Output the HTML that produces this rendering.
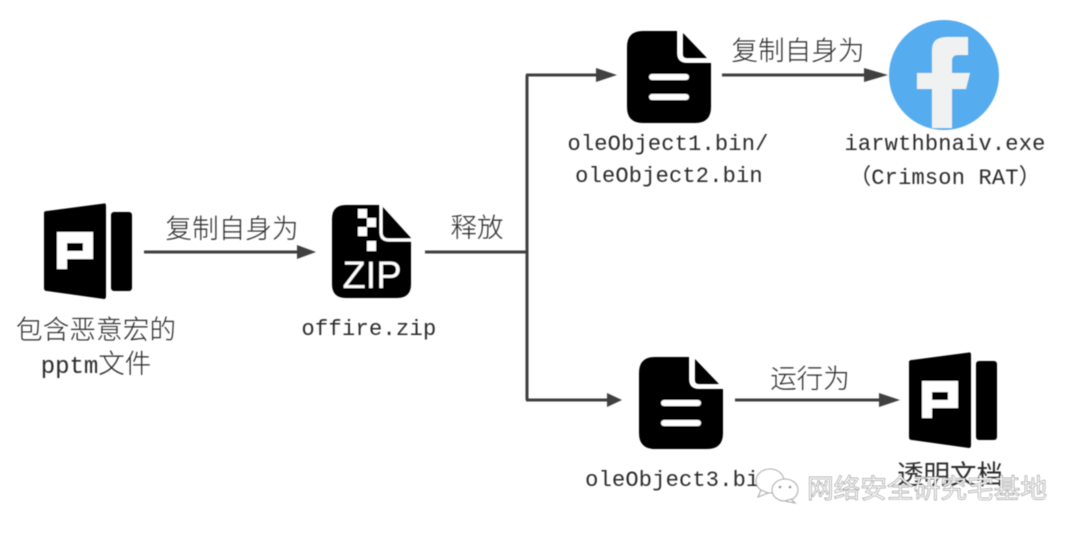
<!DOCTYPE html>
<html><head><meta charset="utf-8"><style>
html,body{margin:0;padding:0;background:#fff;width:1080px;height:534px;overflow:hidden}
svg{display:block}
text{font-family:"Liberation Mono","Noto Sans CJK SC",monospace;fill:#2a2a2a}
.c{font-family:"Liberation Sans","Noto Sans CJK SC",sans-serif;font-size:26.5px;font-weight:300}
.m{font-size:22px;letter-spacing:.2px}
</style></head><body>
<svg width="1080" height="534" viewBox="0 0 1080 534" xmlns="http://www.w3.org/2000/svg">
<defs>
<filter id="b" x="-5%" y="-5%" width="110%" height="110%"><feGaussianBlur stdDeviation="0.55"/></filter>
<g id="ppt">
<path d="M0 10Q0 8 3 8L60 0.5Q62 0 62 3V93Q62 96 60 96L3 88Q0 88 0 85Z" fill="#000"/>
<rect x="67" y="9" width="21" height="79" rx="3" fill="#000"/>
<path fill-rule="evenodd" d="M13 29H49V56H23V66H13ZM23 40V48H39V40Z" fill="#fff"/>
</g>
<g id="doc">
<path d="M16 0H50V22Q50 32 60 32H84V76Q84 92 68 92H16Q0 92 0 76V16Q0 0 16 0Z" fill="#000"/>
<path d="M56 2L80 27H60Q56 27 56 23Z" fill="#000"/>
<rect x="22" y="43" width="40" height="6" rx="3" fill="#fff"/>
<rect x="22" y="63" width="40" height="6" rx="3" fill="#fff"/>
</g>
</defs>
<g filter="url(#b)">
<use href="#ppt" x="44" y="203"/>
<use href="#ppt" x="909" y="352"/>
<!-- ZIP -->
<path d="M346 205H381L411 238V284Q411 298 397 298H346Q332 298 332 284V219Q332 205 346 205Z" fill="#000"/>
<path d="M383 209L409 237H390Q383 237 383 230Z" fill="#000"/>
<path d="M381 205V232Q381 240 389 240H411" fill="none" stroke="#fff" stroke-width="3"/>
<g fill="#fff">
<rect x="358" y="209" width="9" height="9"/><rect x="367" y="218" width="9" height="9"/>
<rect x="358" y="227" width="9" height="9"/><rect x="367" y="241" width="9" height="10"/>
</g>
<text x="372" y="288" text-anchor="middle" style="font-family:'Liberation Sans',sans-serif;font-size:38px;fill:#fff">ZIP</text>
<use href="#doc" x="627" y="31"/>
<use href="#doc" x="639" y="357"/>
<!-- facebook -->
<circle cx="944" cy="75" r="55" fill="#55acee"/>
<path d="M932 128V89H917V73H932V50Q932 37 947 37H968V55H958Q952 55 952 61V73H970L966 89H952V128Z" fill="#f0f2f1"/>
<!-- connectors -->
<g fill="none" stroke="#404040" stroke-width="3">
<path d="M144 252H305"/>
<path d="M425 252H527M527 75V400M526 75H606M526 400H611"/>
<path d="M722 75H877"/>
<path d="M735 400H889"/>
</g>
<g fill="#404040">
<path d="M316 252L297 245V259Z"/>
<path d="M617 75L596 68V82Z"/>
<path d="M622 400L607 393V407Z"/>
<path d="M888 75L864 68V82Z"/>
<path d="M900 400L879 393V407Z"/>
</g>
<!-- labels -->
<text class="c" x="232" y="238" text-anchor="middle" textLength="133">复制自身为</text>
<text class="c" x="477" y="237" text-anchor="middle">释放</text>
<text class="c" x="798" y="60" text-anchor="middle" textLength="133">复制自身为</text>
<text class="c" x="810" y="388" text-anchor="middle">运行为</text>
<text class="c" x="96" y="339" text-anchor="middle" textLength="160">包含恶意宏的</text>
<text class="m" x="96" y="373" text-anchor="middle" style="font-size:24px;letter-spacing:0">pptm<tspan class="c">文件</tspan></text>
<text class="m" x="369" y="335" text-anchor="middle" style="letter-spacing:.3px">offire.zip</text>
<text class="m" x="668" y="150" text-anchor="middle">oleObject1.bin/</text>
<text class="m" x="669" y="182" text-anchor="middle">oleObject2.bin</text>
<text class="m" x="945" y="150" text-anchor="middle">iarwthbnaiv.exe</text>
<text class="m" x="945" y="184" text-anchor="middle">（Crimson RAT）</text>
<text class="m" x="679" y="486" text-anchor="middle">oleObject3.bin</text>
<text class="c" x="950" y="484" text-anchor="middle" textLength="106" style="font-weight:400">透明文档</text>
</g>
<!-- watermark -->
<g filter="url(#b)">
<g fill="#fff" stroke="#aaa" stroke-width="1.1">
<ellipse cx="770" cy="481" rx="14" ry="12"/>
<path d="M761 490L758 497L768 493Z"/>
<ellipse cx="785" cy="490" rx="13" ry="11"/>
<path d="M791 499L795 503L785 501Z"/>
</g>
<circle cx="780" cy="487" r="1.3" fill="#888"/><circle cx="790" cy="487" r="1.3" fill="#888"/>
<text x="807" y="498" style="font-family:'Liberation Sans','Noto Sans CJK SC',sans-serif;font-size:26.7px;fill:#fff;stroke:#9a9a9a;stroke-width:.7">网络安全研究宅基地</text>
</g>
</svg>
</body></html>
